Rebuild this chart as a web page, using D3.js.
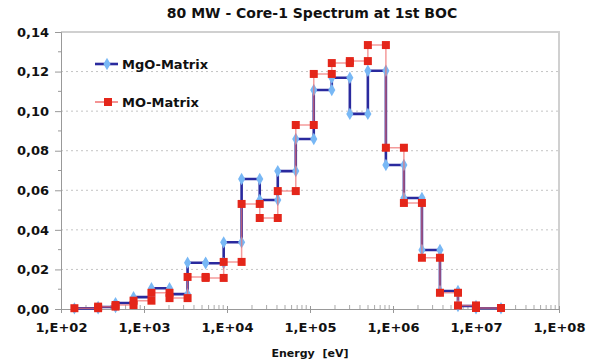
<!DOCTYPE html>
<html>
<head>
<meta charset="utf-8">
<script src="https://cdn.jsdelivr.net/npm/d3@7"></script>
<style>
  html, body { margin: 0; padding: 0; background: #fff; }
  svg { display: block; font-family: "DejaVu Sans", Verdana, sans-serif; font-weight: bold; }
</style>
</head>
<body>
<div id="chart"></div>
<script>
// group boundaries (eV), one value per group for each series
const energyEdges = [145, 280, 454, 748, 1230, 2030, 3350, 5530, 9120, 1.5e4, 2.48e4, 4.09e4, 6.74e4,
  1.11e5, 1.83e5, 3.02e5, 4.98e5, 8.21e5, 1.353e6, 2.231e6, 3.679e6, 6.065e6, 1e7, 2e7];
const mgoMatrix = [0.0003, 0.001, 0.003, 0.006, 0.0105, 0.0075, 0.0234, 0.0231, 0.0337, 0.0657, 0.0551, 0.0697,
  0.0859, 0.1107, 0.1169, 0.0986, 0.1204, 0.0728, 0.0561, 0.0298, 0.0091, 0.0015, 0.0004];
const moMatrix = [0.0004, 0.0012, 0.002, 0.0042, 0.0082, 0.0055, 0.0162, 0.0157, 0.0238, 0.0531, 0.046, 0.0596,
  0.093, 0.1188, 0.1243, 0.1253, 0.1334, 0.0815, 0.0536, 0.0259, 0.0082, 0.0018, 0.0005];
const yTicks = [0, 0.02, 0.04, 0.06, 0.08, 0.1, 0.12, 0.14];
const xTicks = [1e2, 1e3, 1e4, 1e5, 1e6, 1e7, 1e8];
const xTickLabels = ["1,E+02", "1,E+03", "1,E+04", "1,E+05", "1,E+06", "1,E+07", "1,E+08"];

const width = 590, height = 363;
const margin = { top: 32, right: 31, bottom: 54, left: 61 };

const svg = d3.select("#chart").append("svg").attr("width", width).attr("height", height);

const x = d3.scaleLog().domain([1e2, 1e8]).range([margin.left, width - margin.right]);
const y = d3.scaleLinear().domain([0, 0.14]).range([height - margin.bottom, margin.top]);

// each group -> two points (start and end of the group)
const steps = (vals) => vals.flatMap((v, i) => [{ e: energyEdges[i], v }, { e: energyEdges[i + 1], v }]);
const mgoPts = steps(mgoMatrix);
const moPts = steps(moMatrix);

// title
svg.append("text").attr("x", 312).attr("y", 18).attr("text-anchor", "middle")
  .attr("font-size", 14).attr("fill", "#111").text("80 MW - Core-1 Spectrum at 1st BOC");

// grid
svg.append("g").selectAll("line").data(yTicks.slice(1, -1)).enter().append("line")
  .attr("x1", x(1e2)).attr("x2", x(1e8)).attr("y1", (d) => y(d)).attr("y2", (d) => y(d))
  .attr("stroke", "#c4c4c4").attr("stroke-dasharray", "2 3");

// frame top/right
svg.append("path")
  .attr("d", `M${x(1e2)},${y(0.14)}H${x(1e8)}V${y(0)}`)
  .attr("fill", "none").attr("stroke", "#d0d0d0").attr("stroke-width", 2);

// y axis
const yAxis = svg.append("g").attr("transform", `translate(${margin.left},0)`)
  .call(d3.axisLeft(y).tickValues(yTicks).tickSize(6).tickPadding(6)
    .tickFormat((d) => d3.format(".2f")(d).replace(".", ",")));
yAxis.select(".domain").attr("stroke", "#999");
yAxis.selectAll(".tick line").attr("stroke", "#999");
yAxis.selectAll("text").attr("font-size", 13).attr("font-family", "DejaVu Sans").attr("font-weight", "bold").attr("fill", "#111");
svg.append("g").selectAll("line").data(d3.range(0.01, 0.14, 0.02)).enter().append("line")
  .attr("x1", margin.left - 3).attr("x2", margin.left).attr("y1", (d) => y(d)).attr("y2", (d) => y(d))
  .attr("stroke", "#999");

// x axis
const xAxis = svg.append("g").attr("transform", `translate(0,${y(0)})`)
  .call(d3.axisBottom(x).tickValues(xTicks).tickSize(4).tickPadding(10)
    .tickFormat((d, i) => xTickLabels[i]));
xAxis.select(".domain").attr("stroke", "#999");
xAxis.selectAll(".tick line").attr("stroke", "#999").attr("y1", -3);
xAxis.selectAll("text").attr("font-size", 13).attr("font-family", "DejaVu Sans").attr("font-weight", "bold").attr("fill", "#111");
svg.append("g").selectAll("line").data(x.ticks().filter((d) => !xTicks.includes(d))).enter().append("line")
  .attr("x1", (d) => x(d)).attr("x2", (d) => x(d)).attr("y1", y(0) - 4).attr("y2", y(0))
  .attr("stroke", "#aaa");

svg.append("text").attr("x", 310).attr("y", 357).attr("text-anchor", "middle")
  .attr("font-size", 11).attr("fill", "#111").attr("xml:space", "preserve").text("Energy  [eV]");

// series
const line = d3.line().x((d) => x(d.e)).y((d) => y(d.v));
const diamond = d3.symbol().type(d3.symbolDiamond).size(44);
const square = d3.symbol().type(d3.symbolSquare).size(64);

svg.append("path").datum(mgoPts).attr("fill", "none").attr("stroke", "#2a2a9e").attr("stroke-width", 2.6).attr("d", line);
svg.append("g").selectAll("path").data(mgoPts).enter().append("path")
  .attr("transform", (d) => `translate(${x(d.e)},${y(d.v)})`).attr("d", diamond).attr("fill", "#78b8f5");

svg.append("path").datum(moPts).attr("fill", "none").attr("stroke", "#f07070").attr("stroke-opacity", 0.7).attr("stroke-width", 1.5).attr("d", line);
svg.append("g").selectAll("path").data(moPts).enter().append("path")
  .attr("transform", (d) => `translate(${x(d.e)},${y(d.v)})`).attr("d", square).attr("fill", "#e4261a");

// legend
const legend = svg.append("g");
legend.append("line").attr("x1", 95).attr("x2", 118).attr("y1", 64).attr("y2", 64).attr("stroke", "#2a2a9e").attr("stroke-width", 2.6);
legend.append("path").attr("transform", "translate(107,64)").attr("d", diamond).attr("fill", "#78b8f5");
legend.append("text").attr("x", 122).attr("y", 69).attr("font-size", 13).attr("fill", "#111").text("MgO-Matrix");
legend.append("line").attr("x1", 95).attr("x2", 118).attr("y1", 102).attr("y2", 102).attr("stroke", "#f07070").attr("stroke-width", 1.5);
legend.append("path").attr("transform", "translate(108,102)").attr("d", square).attr("fill", "#e4261a");
legend.append("text").attr("x", 122).attr("y", 107).attr("font-size", 13).attr("fill", "#111").text("MO-Matrix");
</script>
</body>
</html>
